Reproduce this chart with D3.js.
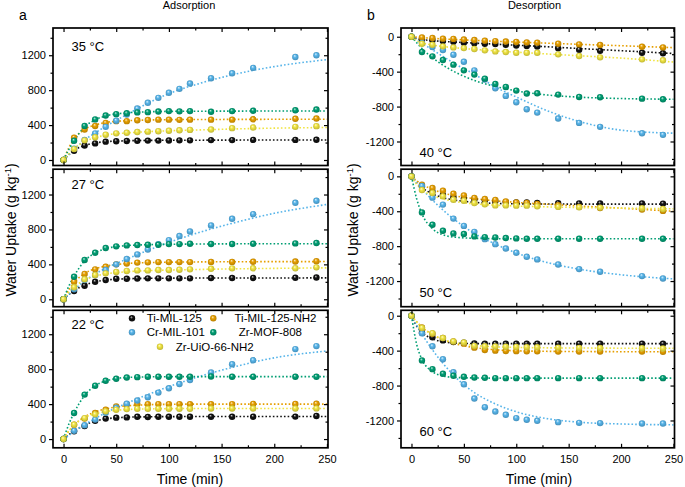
<!DOCTYPE html>
<html><head><meta charset="utf-8">
<script src="https://cdn.jsdelivr.net/npm/d3@7"></script>
<style>
body{margin:0;background:#fff}
svg{display:block}
text{font-family:"Liberation Sans", Arial, Helvetica, sans-serif;fill:#000}
</style>
</head><body>
<svg id="c" width="685" height="487"></svg>
<script>
// ---------- DATA ----------
const times = [0,10,20,30,40,50,60,70,80,90,100,110,120,140,160,180,220,240];
const fitTimes = [0,5,10,20,30,40,60,80,100,130,160,200,250];
const seriesNames = ["Ti-MIL-125","Ti-MIL-125-NH2","Cr-MIL-101","Zr-MOF-808","Zr-UiO-66-NH2"];
const seriesColors = ["#111111","#E69F00","#56B4E9","#009E73","#F0E442"];
const adsTemps = ["35 °C","27 °C","22 °C"];
const desTemps = ["40 °C","50 °C","60 °C"];
const xTicks = [0,50,100,150,200,250];
const xMinor = [25,75,125,175,225];
const yTicksAds = [0,400,800,1200];
const yMinorAds = [200,600,1000,1400];
const yTicksDes = [-1200,-800,-400,0];
const yMinorDes = [-1400,-1000,-600,-200];
const xDomain = [-10,251];
const adsDomains = [[-63,1512],[-85,1490],[-100,1474]];
const desDomains = [[-1475,100],[-1494,82],[-1513,62]];

// point values: [Ti-MIL-125, Ti-MIL-125-NH2, Cr-MIL-101, Zr-MOF-808, Zr-UiO-66-NH2]
const ads35 = [
  [0,105,165,190,210,215,218,220,222,222,224,225,225,228,228,230,230,232],
  [0,255,350,390,425,445,445,455,458,462,462,460,462,462,462,466,472,475],
  [0,130,230,305,380,450,520,590,655,712,770,815,876,937,994,1055,1180,1200],
  [0,220,390,465,510,525,535,545,548,555,560,557,560,553,560,564,570,578],
  [0,125,225,260,290,305,312,320,325,330,335,340,345,350,365,372,380,388]];
const ads35Fit = [
  [0,60,110,165,195,210,220,224,226,227,228,229,229],
  [0,140,240,350,400,430,450,458,462,464,465,466,466],
  [0,60,120,230,310,385,520,650,760,880,975,1070,1150],
  [0,120,220,380,460,505,540,552,557,559,560,561,561],
  [0,70,130,210,255,285,310,325,335,345,355,365,372]];
const ads27 = [
  [0,95,155,200,220,235,236,238,240,240,240,240,240,243,243,244,246,250],
  [0,200,290,343,373,400,410,420,423,426,426,426,426,428,428,430,432,436],
  [0,115,220,278,335,400,461,514,571,632,678,724,777,846,922,975,1105,1128],
  [0,258,450,533,587,606,617,621,625,625,632,632,636,633,633,636,640,644],
  [0,137,229,278,297,312,324,331,331,335,335,339,343,350,354,355,356,366]];
const ads27Fit = [
  [0,55,100,160,200,220,235,240,242,243,243,244,245],
  [0,110,190,295,350,380,410,420,425,428,430,431,432],
  [0,55,110,210,290,355,460,560,650,770,870,985,1086],
  [0,150,265,440,530,580,615,625,630,633,635,636,636],
  [0,80,140,220,265,290,315,328,335,342,348,354,360]];
const ads22 = [
  [0,90,150,210,234,245,248,255,253,256,256,256,256,256,256,256,257,264],
  [0,165,234,298,336,374,396,400,400,400,400,400,400,400,400,402,402,404],
  [0,94,158,223,300,358,404,441,479,532,581,630,675,762,857,902,1030,1064],
  [0,298,509,611,668,690,705,709,713,713,713,713,713,717,713,713,713,713],
  [0,165,240,283,317,336,343,347,347,347,347,347,347,350,350,350,350,351]];
const ads22Fit = [
  [0,50,90,160,205,230,250,255,257,258,258,258,258],
  [0,90,160,255,310,345,380,393,398,400,400,400,400],
  [0,40,85,165,235,300,410,510,600,720,820,930,1008],
  [0,170,300,500,610,665,705,712,714,715,715,715,715],
  [0,90,160,245,290,315,338,345,348,350,350,350,350]];
const des40 = [
  [0,-30,-40,-50,-58,-68,-76,-80,-84,-92,-100,-105,-112,-133,-150,-162,-183,-190],
  [0,-8,-15,-22,-25,-32,-38,-45,-50,-55,-60,-65,-68,-80,-88,-95,-114,-122],
  [0,-70,-118,-152,-206,-286,-385,-490,-590,-678,-750,-830,-869,-937,-987,-1032,-1105,-1124],
  [0,-175,-225,-267,-320,-385,-434,-480,-541,-575,-617,-651,-648,-663,-690,-693,-709,-716],
  [0,-80,-92,-110,-122,-130,-141,-156,-168,-175,-183,-183,-183,-202,-221,-236,-259,-270]];
const des40Fit = [
  [0,-20,-32,-45,-54,-60,-73,-85,-97,-115,-135,-160,-192],
  [0,-5,-10,-18,-25,-31,-42,-52,-61,-74,-87,-103,-125],
  [0,-38,-75,-150,-225,-300,-430,-575,-690,-850,-970,-1070,-1105],
  [0,-70,-135,-240,-325,-395,-500,-570,-620,-668,-692,-708,-716],
  [0,-45,-70,-95,-112,-125,-145,-162,-177,-198,-218,-245,-290]];
const des50 = [
  [0,-120,-175,-215,-240,-255,-265,-275,-285,-295,-300,-300,-305,-308,-310,-310,-310,-312],
  [0,-96,-134,-164,-199,-218,-248,-260,-271,-287,-298,-305,-317,-331,-350,-362,-381,-396],
  [0,-110,-244,-324,-484,-568,-636,-720,-777,-827,-876,-922,-952,-1010,-1063,-1093,-1143,-1170],
  [0,-413,-554,-623,-654,-661,-688,-696,-700,-707,-711,-715,-715,-715,-715,-715,-715,-715],
  [0,-157,-191,-229,-268,-279,-306,-321,-333,-333,-336,-336,-344,-350,-355,-358,-365,-375]];
const des50Fit = [
  [0,-75,-130,-200,-245,-270,-298,-310,-315,-317,-318,-318,-318],
  [0,-50,-90,-150,-190,-220,-255,-280,-298,-320,-340,-365,-400],
  [0,-75,-144,-272,-385,-486,-654,-776,-878,-989,-1064,-1128,-1175],
  [0,-260,-430,-600,-670,-695,-710,-714,-715,-715,-715,-715,-715],
  [0,-90,-150,-220,-258,-285,-315,-330,-340,-350,-357,-364,-372]];
const des60 = [
  [0,-195,-248,-283,-302,-310,-317,-320,-320,-320,-320,-320,-320,-320,-320,-320,-320,-322],
  [0,-134,-206,-256,-294,-320,-366,-392,-400,-404,-406,-408,-408,-410,-410,-410,-410,-412],
  [0,-202,-350,-498,-647,-785,-949,-1048,-1097,-1135,-1173,-1192,-1204,-1219,-1227,-1230,-1234,-1234],
  [0,-512,-612,-665,-688,-700,-707,-711,-715,-715,-715,-715,-715,-715,-715,-715,-715,-715],
  [0,-140,-200,-256,-294,-306,-345,-350,-352,-355,-358,-360,-362,-365,-368,-370,-372,-375]];
const des60Fit = [
  [0,-120,-190,-265,-298,-312,-319,-320,-320,-320,-320,-320,-320],
  [0,-70,-130,-215,-275,-315,-365,-390,-402,-408,-410,-412,-412],
  [0,-110,-210,-390,-545,-680,-880,-1010,-1100,-1180,-1220,-1240,-1250],
  [0,-330,-500,-640,-690,-706,-713,-715,-715,-715,-715,-715,-715],
  [0,-75,-135,-215,-270,-305,-340,-356,-363,-368,-370,-372,-373]];

// ---------- DRAW ----------
const svg = d3.select("#c");
const defs = svg.append("defs");
seriesColors.forEach((c,i)=>{
  const g = defs.append("radialGradient").attr("id","ball"+i)
    .attr("cx","50%").attr("cy","50%").attr("r","55%").attr("fx","38%").attr("fy","30%");
  g.append("stop").attr("offset","0%").attr("stop-color", d3.interpolateRgb(c,"#ffffff")(0.8));
  g.append("stop").attr("offset","40%").attr("stop-color", c);
  g.append("stop").attr("offset","100%").attr("stop-color", d3.color(c).darker(0.7).formatHex());
});

const colsX = [[53,328],[401,674.5]];
const rowsY = [[28,165.5],[169.2,306.7],[310.3,447.8]];
const adsTempDy = [23,19.3,18.2];
const desTempDy = [-8.8,-10,-11.8];

const panels = [
  {col:0,row:0,dom:adsDomains[0],pts:ads35,fit:ads35Fit,temp:adsTemps[0]},
  {col:0,row:1,dom:adsDomains[1],pts:ads27,fit:ads27Fit,temp:adsTemps[1]},
  {col:0,row:2,dom:adsDomains[2],pts:ads22,fit:ads22Fit,temp:adsTemps[2]},
  {col:1,row:0,dom:desDomains[0],pts:des40,fit:des40Fit,temp:desTemps[0]},
  {col:1,row:1,dom:desDomains[1],pts:des50,fit:des50Fit,temp:desTemps[1]},
  {col:1,row:2,dom:desDomains[2],pts:des60,fit:des60Fit,temp:desTemps[2]}
];

const fmt = d => String(d);

panels.forEach((p,pi)=>{
  const [x0,x1] = colsX[p.col];
  const [yt,yb] = rowsY[p.row];
  const x = d3.scaleLinear().domain(xDomain).range([x0,x1]);
  const y = d3.scaleLinear().domain(p.dom).range([yb,yt]);
  const g = svg.append("g");
  const cid = "clip"+pi;
  defs.append("clipPath").attr("id",cid).append("rect")
    .attr("x",x0).attr("y",yt).attr("width",x1-x0).attr("height",yb-yt);
  const plot = g.append("g").attr("clip-path",`url(#${cid})`);

  const line = d3.line().x((d,i)=>x(fitTimes[i])).y(d=>y(d)).curve(d3.curveMonotoneX);
  p.fit.forEach((s,si)=>{
    plot.append("path").attr("d",line(s)).attr("fill","none")
      .attr("stroke",seriesColors[si]).attr("stroke-width",1.6)
      .attr("stroke-dasharray","1.6,2.1");
  });
  p.pts.forEach((s,si)=>{
    plot.append("g").selectAll("circle").data(s).join("circle")
      .attr("cx",(d,i)=>x(times[i])).attr("cy",d=>y(d)).attr("r",3.2)
      .attr("fill",`url(#ball${si})`);
  });

  const isAds = p.col===0;
  const yT = isAds ? yTicksAds : yTicksDes;
  const yM = isAds ? yMinorAds : yMinorDes;
  // left axis (labels, outward ticks)
  const la = g.append("g").attr("transform",`translate(${x0},0)`)
    .call(d3.axisLeft(y).tickValues(yT).tickSize(4).tickPadding(3).tickFormat(fmt));
  g.append("g").attr("transform",`translate(${x0},0)`)
    .call(d3.axisLeft(y).tickValues(yM).tickSize(2.5).tickFormat(""));
  // right axis inward
  g.append("g").attr("transform",`translate(${x1},0)`)
    .call(d3.axisRight(y).tickValues(yT).tickSize(-4).tickFormat(""));
  g.append("g").attr("transform",`translate(${x1},0)`)
    .call(d3.axisRight(y).tickValues(yM).tickSize(-2.5).tickFormat(""));
  // top axis inward
  g.append("g").attr("transform",`translate(0,${yt})`)
    .call(d3.axisTop(x).tickValues(xTicks).tickSize(-4).tickFormat(""));
  g.append("g").attr("transform",`translate(0,${yt})`)
    .call(d3.axisTop(x).tickValues(xMinor).tickSize(-2.5).tickFormat(""));
  // bottom axis inward
  const ba = g.append("g").attr("transform",`translate(0,${yb})`)
    .call(d3.axisBottom(x).tickValues(xTicks).tickSize(-4).tickPadding(7.5)
      .tickFormat(p.row===2 ? fmt : ""));
  g.append("g").attr("transform",`translate(0,${yb})`)
    .call(d3.axisBottom(x).tickValues(xMinor).tickSize(-2.5).tickFormat(""));

  g.selectAll(".domain").remove();
  g.selectAll(".tick line").attr("stroke","#000").attr("stroke-width",1.2);
  g.selectAll(".tick text").attr("font-size","11px")
    .attr("font-family",'"Liberation Sans", Arial, sans-serif').attr("fill","#000");

  // frame
  g.append("rect").attr("x",x0).attr("y",yt).attr("width",x1-x0).attr("height",yb-yt)
    .attr("fill","none").attr("stroke","#000").attr("stroke-width",1.7);

  // temperature label
  g.append("text").attr("x",x0+18.5)
    .attr("y", isAds ? yt+adsTempDy[p.row] : yb+desTempDy[p.row])
    .attr("font-size","13px").text(p.temp);
});

// legend in bottom-left panel
const legendPos = [[132,318.3,146.7],[213.3,318.3,234.5],[132,332.3,146.7],[213.3,332.3,238.7],[160,346.7,175.7]];
const lg = svg.append("g");
seriesNames.forEach((n,i)=>{
  const [cx,cy,tx] = legendPos[i];
  lg.append("circle").attr("cx",cx).attr("cy",cy).attr("r",3.2).attr("fill",`url(#ball${i})`);
  lg.append("text").attr("x",tx).attr("y",cy).attr("dy","0.36em")
    .attr("font-size","11.5px").text(n);
});

// titles
svg.append("text").attr("x",189).attr("y",9).attr("text-anchor","middle")
  .attr("font-size","11px").attr("fill","#222").text("Adsorption");
svg.append("text").attr("x",534.5).attr("y",9).attr("text-anchor","middle")
  .attr("font-size","11px").attr("fill","#222").text("Desorption");
svg.append("text").attr("x",19).attr("y",19.5).attr("font-size","14px").text("a");
svg.append("text").attr("x",367).attr("y",19.5).attr("font-size","14px").text("b");

// y titles
function yTitle(xp, yp){
  const t = svg.append("text").attr("transform",`translate(${xp},${yp}) rotate(-90)`)
    .attr("text-anchor","middle").attr("font-size","14px");
  t.append("tspan").text("Water Uptake (g kg");
  t.append("tspan").attr("font-size","9.5px").attr("dy","-5").text("-1");
  t.append("tspan").attr("dy","5").text(")");
}
yTitle(15.5, 230);
yTitle(358, 230);

// x titles
svg.append("text").attr("x",190).attr("y",484).attr("text-anchor","middle").attr("font-size","14px").text("Time (min)");
svg.append("text").attr("x",539).attr("y",484).attr("text-anchor","middle").attr("font-size","14px").text("Time (min)");
</script>
</body></html>
